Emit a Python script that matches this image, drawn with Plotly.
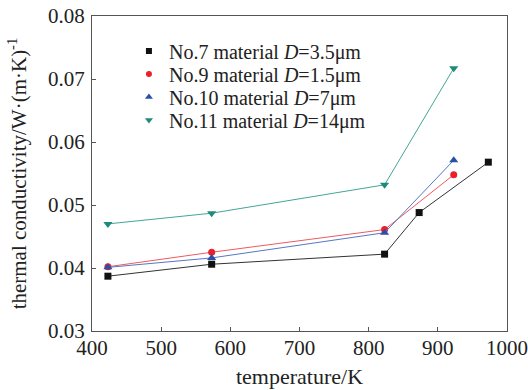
import plotly.graph_objects as go

temps_7 = [423, 573, 823, 873, 973]
k_7 = [0.0387, 0.0406, 0.0422, 0.0488, 0.0568]
temps_9 = [423, 573, 823, 923]
k_9 = [0.0402, 0.0425, 0.0461, 0.0548]
temps_10 = [423, 573, 823, 923]
k_10 = [0.0401, 0.0416, 0.0456, 0.0571]
temps_11 = [423, 573, 823, 923]
k_11 = [0.0470, 0.0487, 0.0532, 0.0717]

names = ["No.7 material <i>D</i>=3.5μm", "No.9 material <i>D</i>=1.5μm",
         "No.10 material <i>D</i>=7μm", "No.11 material <i>D</i>=14μm"]

series = [
    (temps_7, k_7, "#111111", "#333333", "square", 7),
    (temps_9, k_9, "#e8212b", "#ee5a60", "circle", 7),
    (temps_10, k_10, "#2b4fa8", "#5577c4", "triangle-up", 8),
    (temps_11, k_11, "#1f8a7a", "#45a596", "triangle-down", 8),
]
legend_ids = ["legend", "legend2", "legend3", "legend4"]
legend_y = [0.889, 0.816, 0.743, 0.670]

font = "Liberation Serif, Times New Roman, serif"

fig = go.Figure()
for (x, y, mc, lc, sym, sz), nm in zip(series, names):
    fig.add_trace(go.Scatter(x=x, y=y, name=nm, mode="lines+markers", showlegend=False,
                             line=dict(color=lc, width=1),
                             marker=dict(color=mc, symbol=sym, size=sz)))
for (x, y, mc, lc, sym, sz), nm, lid in zip(series, names, legend_ids):
    fig.add_trace(go.Scatter(x=[None], y=[None], name=nm, mode="markers", legend=lid,
                             marker=dict(color=mc, symbol=sym, size=sz - 1)))

legend_layout = {}
for lid, ly in zip(legend_ids, legend_y):
    legend_layout[lid] = dict(x=0.089, y=ly, xanchor="left", yanchor="middle",
                              bgcolor="rgba(0,0,0,0)", font=dict(size=20, family=font),
                              itemwidth=30)

fig.update_layout(
    width=528, height=390,
    margin=dict(l=92, r=21, t=16, b=59),
    paper_bgcolor="white", plot_bgcolor="white",
    font=dict(family=font, size=21, color="#222222"),
    showlegend=True,
    xaxis=dict(range=[400, 1000], dtick=100, showgrid=False, zeroline=False,
               showline=True, linecolor="#555555", linewidth=1, mirror=True,
               ticks="inside", ticklen=4, tickcolor="#555555", automargin=False,
               ticklabelstandoff=-2,
               title=dict(text="temperature/K", standoff=9, font=dict(size=22)),
               tickfont=dict(size=21)),
    yaxis=dict(range=[0.03, 0.08], dtick=0.01, tickformat=".2f", showgrid=False,
               zeroline=False, showline=True, linecolor="#555555", linewidth=1,
               mirror=True, ticks="inside", ticklen=4, tickcolor="#555555", automargin=False,
               ticklabelstandoff=2,
               title=dict(text="thermal conductivity/W·(m·K)<sup>-1</sup>", standoff=15,
                          font=dict(size=21)),
               tickfont=dict(size=21)),
    **legend_layout,
)
fig.write_html("out.html", post_script="document.body.style.margin='0';",
               config={"displayModeBar": False})
